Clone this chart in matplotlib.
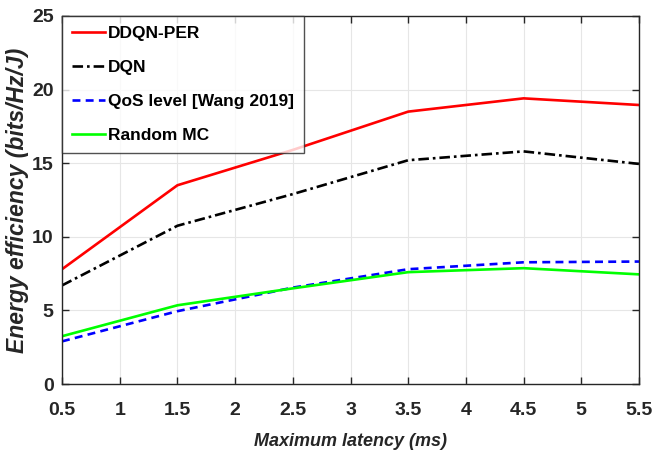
import matplotlib.pyplot as plt

latency = [0.5, 1.5, 2.5, 3.5, 4.5, 5.5]
ddqn_per = [7.8, 13.5, 15.9, 18.5, 19.4, 18.95]
dqn = [6.7, 10.75, 12.9, 15.2, 15.8, 14.95]
qos_wang = [2.9, 4.95, 6.55, 7.8, 8.27, 8.32]
random_mc = [3.25, 5.35, 6.5, 7.6, 7.87, 7.45]

plt.rcParams["font.family"] = ["Liberation Sans", "DejaVu Sans"]
plt.rcParams["font.weight"] = "bold"

fig = plt.figure(figsize=(6.67, 4.54), dpi=100)
ax = fig.add_axes([0.093, 0.154, 0.865, 0.811])

ax.plot(latency, ddqn_per, color="#ff0000", lw=1.9, label="DDQN-PER")
ax.plot(latency, dqn, color="black", lw=1.9, linestyle=(0, (4, 1.5, 1, 1.5)), label="DQN")
ax.plot(latency, qos_wang, color="#0000ff", lw=1.9, linestyle=(0, (3, 2)), label="QoS level [Wang 2019]")
ax.plot(latency, random_mc, color="#00ff00", lw=1.9, label="Random MC")

ax.set_xlim(0.5, 5.5)
ax.set_ylim(0, 25)
ax.set_xticks([0.5, 1, 1.5, 2, 2.5, 3, 3.5, 4, 4.5, 5, 5.5])
ax.set_xticklabels(["0.5", "1", "1.5", "2", "2.5", "3", "3.5", "4", "4.5", "5", "5.5"])
ax.set_yticks([0, 5, 10, 15, 20, 25])
ax.tick_params(direction="in", top=True, right=True, labelsize=14, length=5, width=1, colors="#262626")
ax.tick_params(axis="x", pad=13)
ax.tick_params(axis="y", pad=6)
for lab in ax.get_xticklabels() + ax.get_yticklabels():
    lab.set_fontweight("bold")
for s in ax.spines.values():
    s.set_color("#262626")
    s.set_linewidth(1)
ax.grid(True, color="#e6e6e6", lw=0.8)
ax.set_axisbelow(True)

ax.set_xlabel("Maximum latency (ms)", fontsize=13, fontstyle="italic", fontweight="bold", color="#262626")
ax.set_ylabel("Energy efficiency (bits/Hz/J)", fontsize=16.5, fontstyle="italic", fontweight="bold",
              color="#262626")
ax.xaxis.set_label_coords(0.5, -0.134)
ax.yaxis.set_label_coords(-0.058, 0.5)

leg = ax.legend(loc="upper left", bbox_to_anchor=(0, 1), fontsize=12.5, frameon=True, fancybox=False,
                handlelength=1.9, handletextpad=0.2, labelspacing=1.1, borderaxespad=0, borderpad=0.55)
leg.get_frame().set_edgecolor("#262626")
leg.get_frame().set_linewidth(1)
for t in leg.get_texts():
    t.set_fontweight("bold")

fig.savefig("out.png", dpi=100)
